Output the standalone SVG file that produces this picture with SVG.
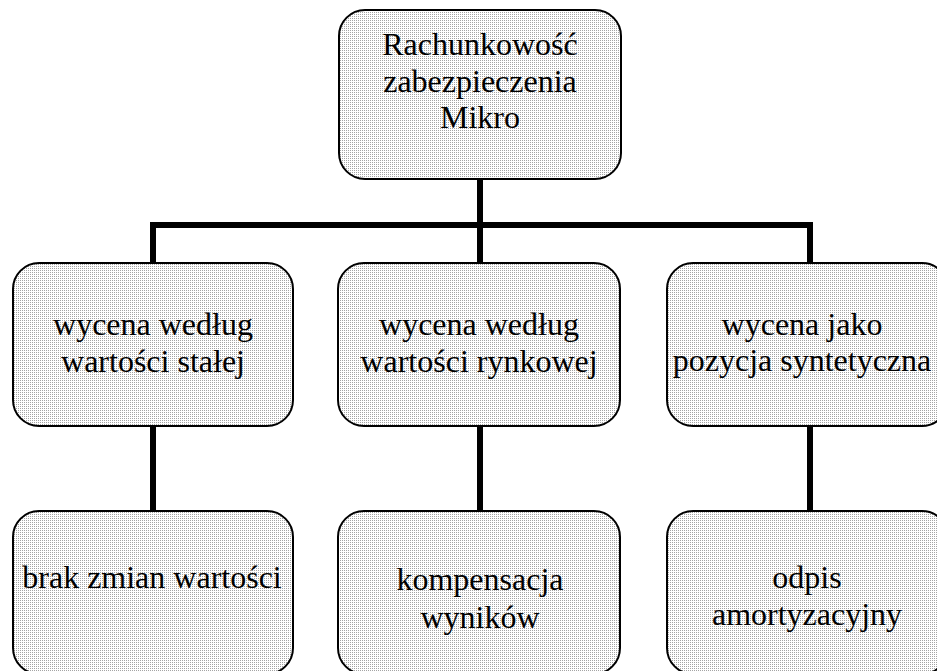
<svg xmlns="http://www.w3.org/2000/svg" width="937" height="671" viewBox="0 0 937 671">
  <defs>
    <!-- fine dotted fill used inside every box -->
    <pattern id="dots" patternUnits="userSpaceOnUse" x="0" y="0" width="2" height="2">
      <rect x="0" y="0" width="2" height="2" fill="#ffffff"/>
      <rect x="0" y="0" width="1" height="1" fill="#a4a4a4"/>
    </pattern>
  </defs>
  <style>
    .box { fill: url(#dots); stroke: #000; stroke-width: 2; }
    .lbl { font-family: 'Liberation Serif', serif; font-size: 32px; fill: #000; text-anchor: middle; }
    .conn { stroke: #000; stroke-width: 6; fill: none; stroke-linecap: butt; stroke-linejoin: miter; }
  </style>
  <rect width="937" height="671" fill="#fff"/>

  <!-- connectors -->
  <g id="connectors">
    <path class="conn" d="M480,179 V225"/>
    <path class="conn" d="M153,263 V225 H810 V263"/>
    <path class="conn" d="M480,225 V263"/>
    <path class="conn" d="M153,426 V511"/>
    <path class="conn" d="M480,426 V511"/>
    <path class="conn" d="M810,426 V511"/>
  </g>

  <g font-family="Liberation Serif, serif">
    <g id="root">
      <rect class="box" x="339" y="10" width="282" height="169" rx="26" ry="26"/>
      <text class="lbl" x="480" y="55">Rachunkowość</text>
      <text class="lbl" x="480" y="92">zabezpieczenia</text>
      <text class="lbl" x="480" y="128">Mikro</text>
    </g>

    <g id="fixed-value">
      <rect class="box" x="13" y="263" width="280" height="163" rx="26" ry="26"/>
      <text class="lbl" x="153" y="335">wycena według</text>
      <text class="lbl" x="153" y="372">wartości stałej</text>
    </g>

    <g id="market-value">
      <rect class="box" x="338" y="263" width="282" height="163" rx="26" ry="26"/>
      <text class="lbl" x="479" y="335">wycena według</text>
      <text class="lbl" x="479" y="372">wartości rynkowej</text>
    </g>

    <g id="synthetic">
      <rect class="box" x="667" y="263" width="281" height="163" rx="26" ry="26"/>
      <text class="lbl" x="802" y="335">wycena jako</text>
      <text class="lbl" x="802" y="371">pozycja syntetyczna</text>
    </g>

    <g id="no-change">
      <rect class="box" x="13" y="511" width="280" height="163" rx="26" ry="26"/>
      <text class="lbl" x="152" y="588">brak zmian wartości</text>
    </g>

    <g id="compensation">
      <rect class="box" x="338" y="511" width="282" height="163" rx="26" ry="26"/>
      <text class="lbl" x="480" y="590">kompensacja</text>
      <text class="lbl" x="480" y="628">wyników</text>
    </g>

    <g id="amortization">
      <rect class="box" x="667" y="511" width="281" height="163" rx="26" ry="26"/>
      <text class="lbl" x="807" y="588">odpis</text>
      <text class="lbl" x="807" y="625">amortyzacyjny</text>
    </g>
  </g>
</svg>
